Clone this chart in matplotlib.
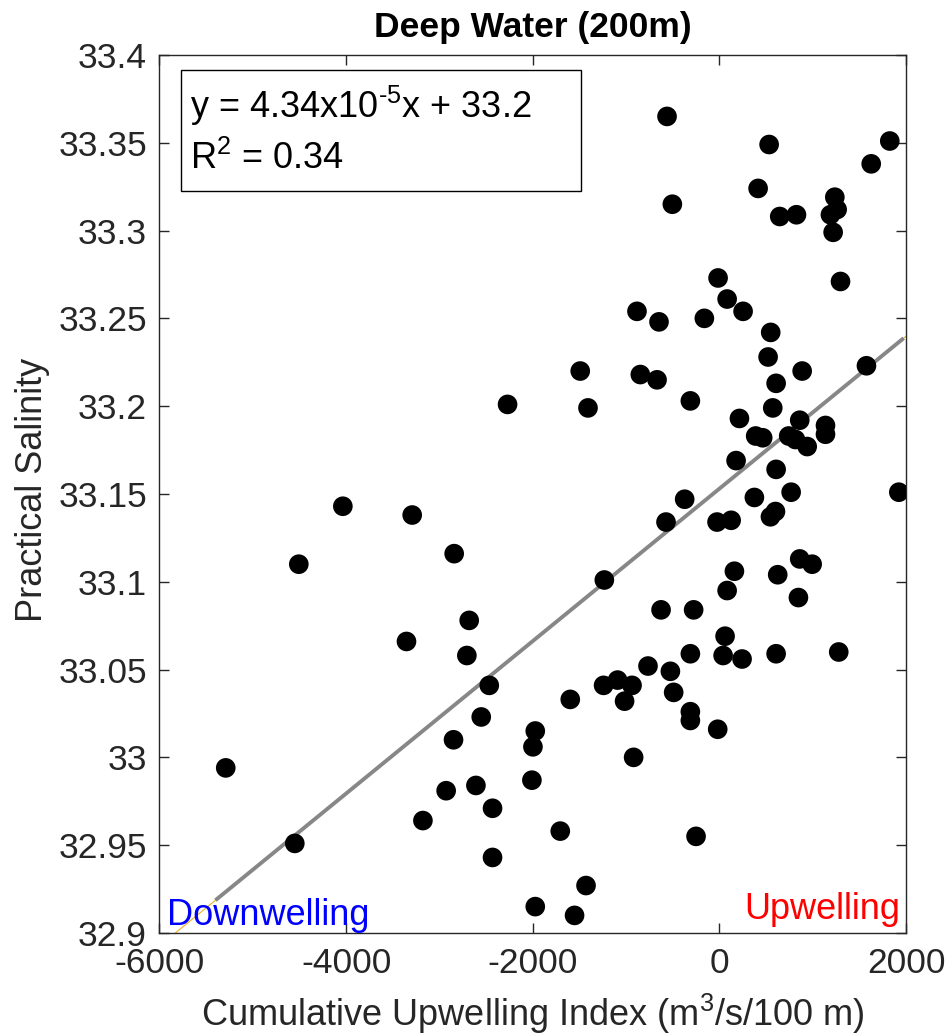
import matplotlib
matplotlib.use("Agg")
import matplotlib.pyplot as plt
from matplotlib.patches import Rectangle
import numpy as np

plt.rcParams['font.family'] = ['Liberation Sans', 'DejaVu Sans']
plt.rcParams['mathtext.fontset'] = 'custom'
plt.rcParams['mathtext.rm'] = 'Liberation Sans'
plt.rcParams['mathtext.it'] = 'Liberation Sans:italic'
plt.rcParams['mathtext.bf'] = 'Liberation Sans:bold'
plt.rcParams['axes.unicode_minus'] = False

# ---- data ----
upwelling_index = [
    -561, 533, 1826, 1627, 415, -504, 647, 826, 1237, 1262, 1190, 1219,
    -14, 83, 254, -161, -883, -647, 1298, 550, 522, -1491, -847, -668,
    887, 608, 1576, -1408, -311, 572, 215, 861, 1137, 1137, 389, 464,
    743, 815, 941, 179, 608, 1923, 375, 769, -372, -572, -25, 126,
    547, 601, -1233, 161, 625, 861, 994, 83, 847, -625, -276, 61,
    -311, 40, 243, 608, 1279, -2270, -4035, -3292, -2842, -4507, -2681, -3353,
    -2706, -2466, -2552, -2849, -5290, -2928, -2609, -2431, -3177, -4550, -2431, -1973,
    -1998, -2009, -1973, -1598, -1241, -1091, -936, -1016, -765, -525, -490, -311,
    -311, -18, -919, -1705, -250, -1429, -1552,
]
salinity = [
    33.365, 33.349, 33.351, 33.338, 33.324, 33.315, 33.308, 33.309, 33.319, 33.312, 33.309, 33.299,
    33.273, 33.261, 33.254, 33.250, 33.254, 33.248, 33.271, 33.242, 33.228, 33.220, 33.218, 33.215,
    33.220, 33.213, 33.223, 33.199, 33.203, 33.199, 33.193, 33.192, 33.189, 33.184, 33.183, 33.182,
    33.183, 33.181, 33.177, 33.169, 33.164, 33.151, 33.148, 33.151, 33.147, 33.134, 33.134, 33.135,
    33.137, 33.140, 33.101, 33.106, 33.104, 33.113, 33.110, 33.095, 33.091, 33.084, 33.084, 33.069,
    33.059, 33.058, 33.056, 33.059, 33.060, 33.201, 33.143, 33.138, 33.116, 33.110, 33.078, 33.066,
    33.058, 33.041, 33.023, 33.010, 32.994, 32.981, 32.984, 32.971, 32.964, 32.951, 32.943, 33.015,
    33.006, 32.987, 32.915, 33.033, 33.041, 33.044, 33.041, 33.032, 33.052, 33.049, 33.037, 33.026,
    33.021, 33.016, 33.000, 32.958, 32.955, 32.927, 32.910,
]

fit_slope = 4.34e-5
fit_intercept = 33.153
fit_x_range = [-5400, 1975]
full_x_range = [-6000, 2000]

x_ticks = [-6000, -4000, -2000, 0, 2000]
x_tick_labels = ['-6000', '-4000', '-2000', '0', '2000']
y_ticks = [32.9, 32.95, 33.0, 33.05, 33.1, 33.15, 33.2, 33.25, 33.3, 33.35, 33.4]
y_tick_labels = ['32.9', '32.95', '33', '33.05', '33.1', '33.15', '33.2', '33.25', '33.3', '33.35', '33.4']

title_text = 'Deep Water (200m)'
xlabel_text = r'Cumulative Upwelling Index (m$^3$/s/100 m)'
ylabel_text = 'Practical Salinity'
eq_text = 'y = 4.34x10$^{\u20105}$x + 33.2'
r2_text = r'R$^2$ = 0.34'

# ---- figure ----
fig = plt.figure(figsize=(9.51, 10.35), dpi=100)
ax = fig.add_axes([0.1677, 0.0986, 0.785, 0.8483])

axis_color = '#262626'

fx = np.array(full_x_range, dtype=float)
ax.plot(fx, fit_slope * fx + fit_intercept, color='#EDB120', lw=0.8, zorder=2)
gx = np.array(fit_x_range, dtype=float)
ax.plot(gx, fit_slope * gx + fit_intercept, color='#878787', lw=2.8, zorder=3,
        solid_capstyle='butt')

ax.scatter(upwelling_index, salinity, s=200, c='k', edgecolors='none', zorder=4)

ax.set_xlim(-6000, 2000)
ax.set_ylim(32.9, 33.4)
ax.set_xticks(x_ticks)
ax.set_xticklabels(x_tick_labels)
ax.set_yticks(y_ticks)
ax.set_yticklabels(y_tick_labels)

for sp in ax.spines.values():
    sp.set_color(axis_color)
    sp.set_linewidth(1.0)

ax.tick_params(axis='both', which='both', direction='in', length=7, width=1,
               color=axis_color, labelcolor=axis_color, labelsize=25.5,
               top=True, right=True)
ax.tick_params(axis='x', pad=10)
ax.tick_params(axis='y', pad=9)

ax.set_title(title_text, fontsize=25.5, fontweight='bold', color='k', pad=13)

ax.set_xlabel(xlabel_text, fontsize=26, color=axis_color)
ax.xaxis.set_label_coords(0.5, -0.106)
ax.xaxis.label.set_va('baseline')
ax.set_ylabel(ylabel_text, fontsize=26, color=axis_color)
ax.yaxis.set_label_coords(-0.147, 0.505)

# equation box
box = Rectangle((0.0288, 0.845), 0.5358, 0.138, transform=ax.transAxes,
                facecolor='white', edgecolor='k', lw=1.0, zorder=5)
ax.add_patch(box)
ax.text(0.041, 0.928, eq_text, transform=ax.transAxes, fontsize=26,
        ha='left', va='baseline', color='k', zorder=6)
ax.text(0.041, 0.870, r2_text, transform=ax.transAxes, fontsize=26,
        ha='left', va='baseline', color='k', zorder=6)

ax.text(-5920, 32.9046, 'Downwelling', color='#0000FF', fontsize=26,
        ha='left', va='baseline', zorder=6)
ax.text(1941, 32.908, 'Upwelling', color='#FF0000', fontsize=26,
        ha='right', va='baseline', zorder=6)

fig.savefig('out.png', dpi=100)
